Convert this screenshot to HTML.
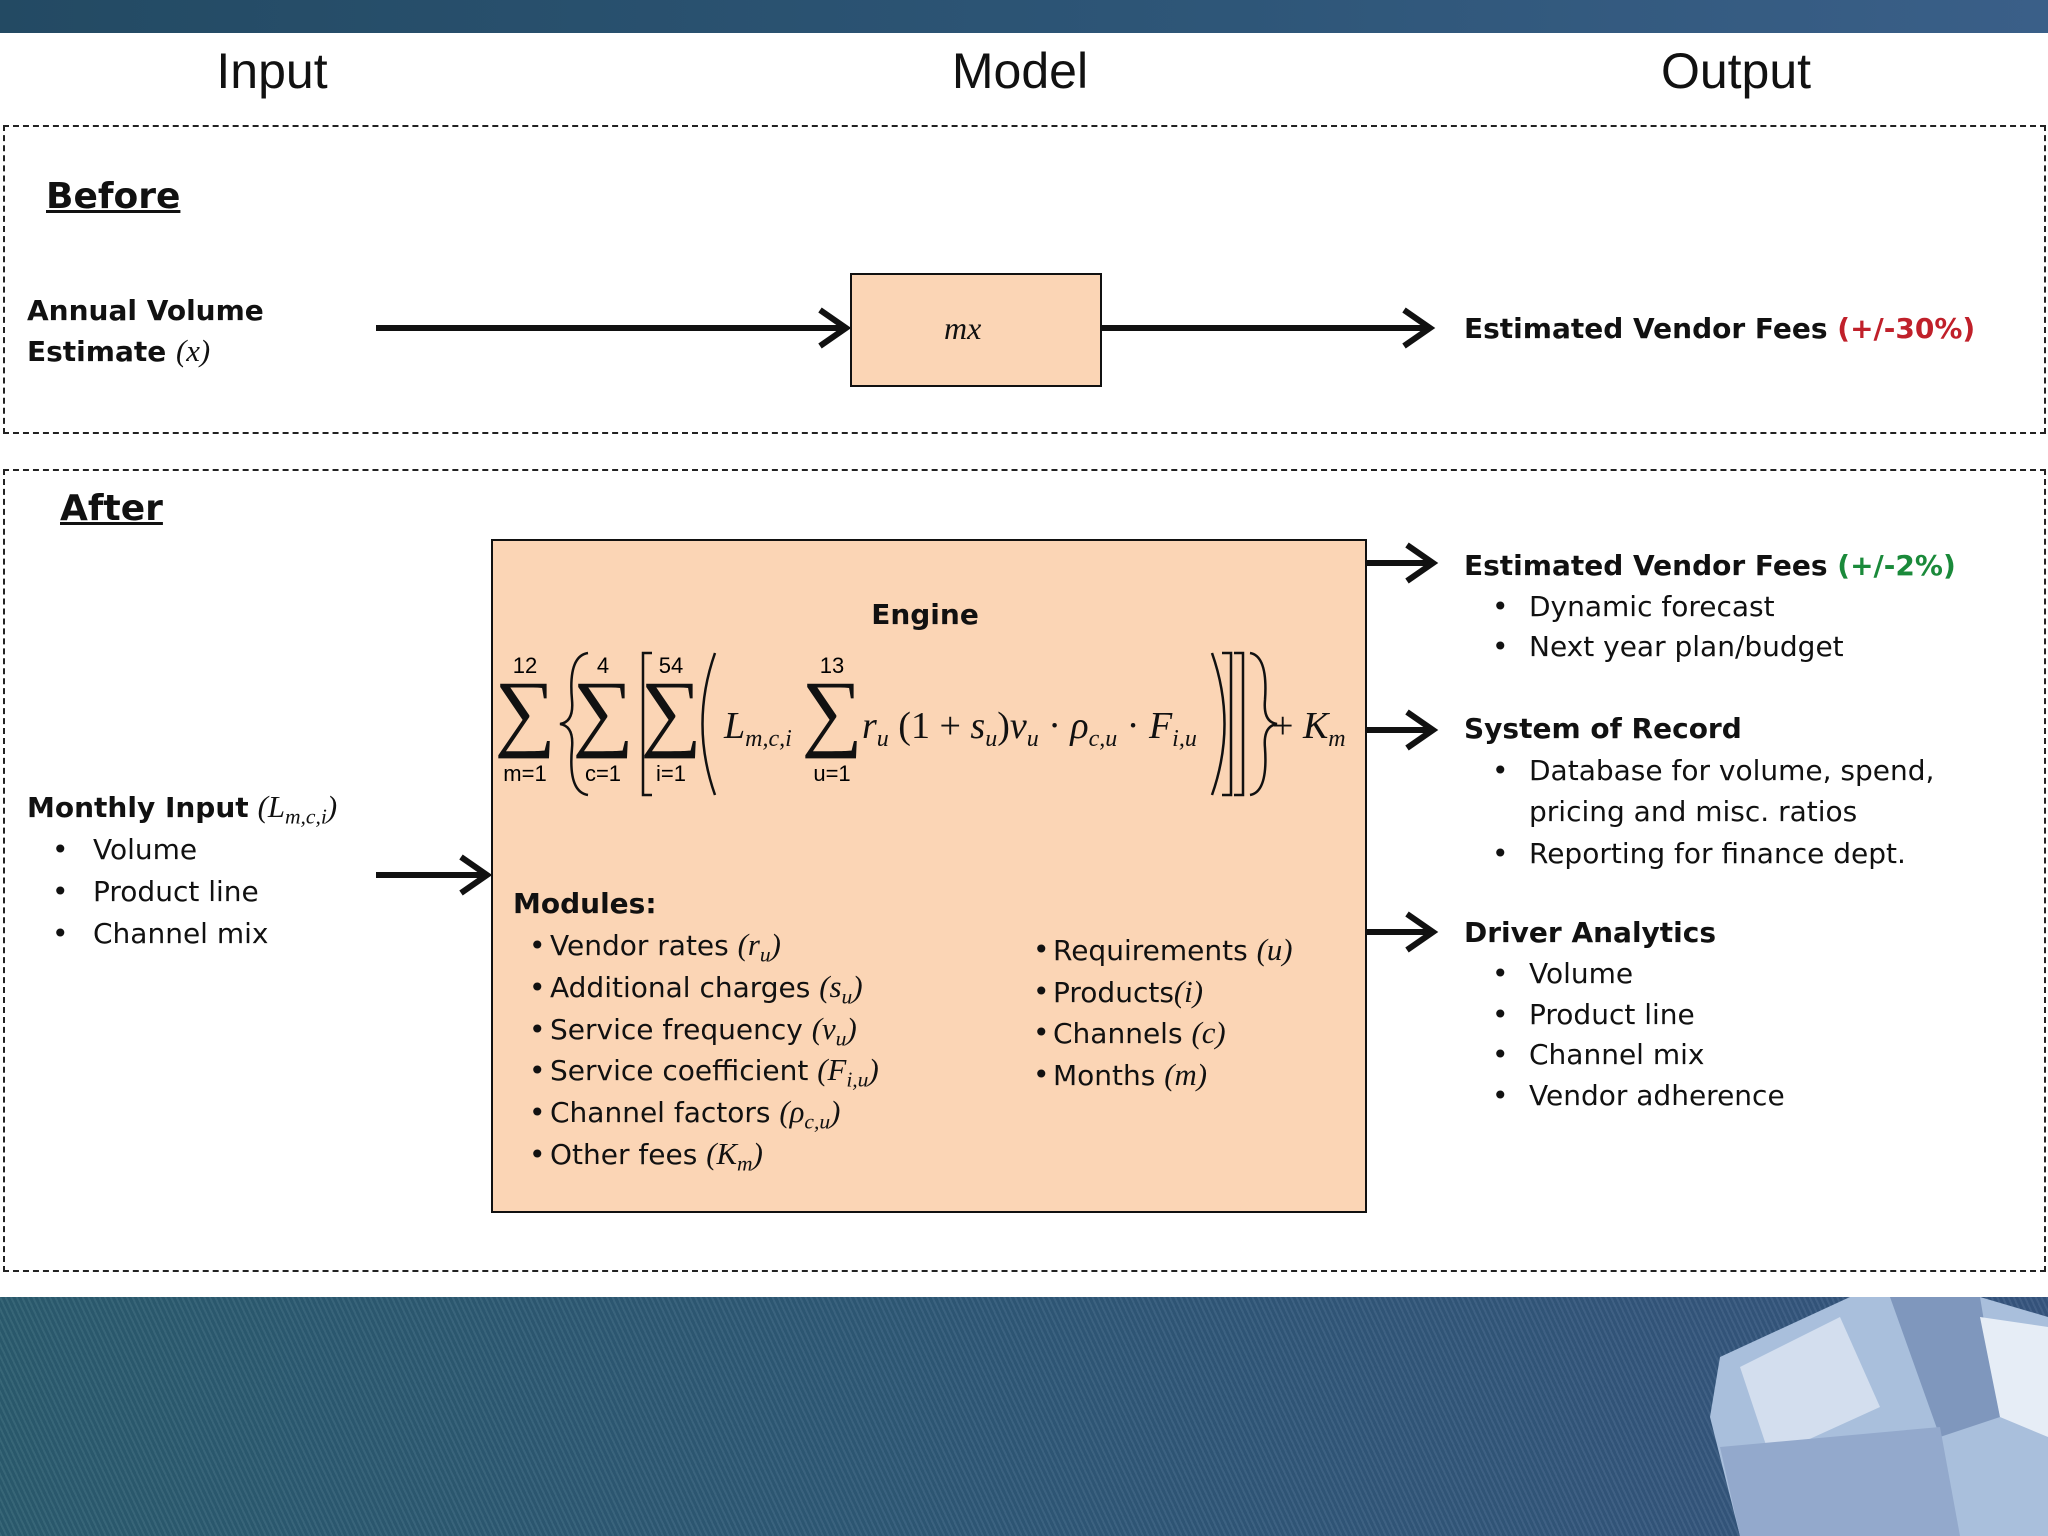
<!DOCTYPE html>
<html><head><meta charset="utf-8"><style>
body{margin:0;width:2048px;height:1536px;position:relative;overflow:hidden;background:#fff;font-family:"DejaVu Sans","Liberation Sans",sans-serif;color:#111}
.a{position:absolute;white-space:nowrap}
.h{font-size:50px;font-family:"Liberation Sans",sans-serif;transform:translateX(-50%)}
.b{font-weight:bold}
.t{font-size:28px;font-family:"DejaVu Sans",sans-serif}
.m{font-family:"Liberation Serif",serif;font-style:italic;font-size:1.1em}
sub{line-height:0;font-size:0.7em;vertical-align:-0.3em}
.dash{position:absolute;border:2px dashed #222}
.li{position:relative}
.li i{position:absolute;font-style:normal}
</style></head><body>
<div class="a" style="left:0;top:0;width:2048px;height:33px;background:linear-gradient(90deg,#234a63,#2e5678 60%,#3a5f88)"></div>
<div class="a" style="left:0;top:1297px;width:2048px;height:239px;background:repeating-linear-gradient(65deg,rgba(255,255,255,0.06) 0 2px,rgba(0,0,0,0.04) 2px 5px),linear-gradient(90deg,#2b5c6f,#2f5878 50%,#36557f)"></div>
<svg class="a" style="left:1680px;top:1297px" width="368" height="239"><polygon points="40,60 170,0 300,0 368,20 368,239 60,239 30,120" fill="#a9bfdc"/><polygon points="60,70 160,20 200,110 90,160" fill="#d3deee"/><polygon points="210,0 300,0 320,120 260,140" fill="#7f97bd"/><polygon points="300,20 368,30 368,140 320,120" fill="#e6edf6"/><polygon points="40,150 260,130 280,239 60,239" fill="#93a9cc"/></svg>

<div class="a h" style="left:272px;top:42px">Input</div>
<div class="a h" style="left:1020px;top:42px">Model</div>
<div class="a h" style="left:1736px;top:42px">Output</div>

<div class="dash" style="left:3px;top:125px;width:2039px;height:305px"></div>
<div class="dash" style="left:3px;top:469px;width:2039px;height:799px"></div>

<div class="a t b" style="left:46px;top:176px;font-size:36px;text-decoration:underline">Before</div>
<div class="a t b" style="left:60px;top:488px;font-size:36px;text-decoration:underline">After</div>

<div class="a t b" style="left:27px;top:290px;line-height:41px">Annual Volume<br>Estimate <span class="m" style="font-weight:normal">(x)</span></div>

<div class="a" style="left:850px;top:273px;width:248px;height:110px;background:#fbd5b5;border:2px solid #111"></div>
<div class="a m" style="left:944px;top:310px;font-size:32px">mx</div>

<svg class="a" style="left:0;top:0" width="2048" height="1536">
<g stroke="#111" stroke-width="6" fill="none" stroke-linejoin="miter">
<line x1="376" y1="328" x2="846" y2="328"/><path d="M820,310 L846,328 L820,346"/>
<line x1="1100" y1="328" x2="1430" y2="328"/><path d="M1404,310 L1430,328 L1404,346"/>
<line x1="376" y1="875" x2="487" y2="875"/><path d="M461,857 L487,875 L461,893"/>
<line x1="1366" y1="563" x2="1433" y2="563"/><path d="M1407,545 L1433,563 L1407,581"/>
<line x1="1366" y1="730" x2="1433" y2="730"/><path d="M1407,712 L1433,730 L1407,748"/>
<line x1="1366" y1="932" x2="1433" y2="932"/><path d="M1407,914 L1433,932 L1407,950"/>
</g>
</svg>

<div class="a t b" style="left:1464px;top:312px">Estimated Vendor Fees <span style="color:#c0202a">(+/-30%)</span></div>

<div class="a" style="left:491px;top:539px;width:872px;height:670px;background:#fbd5b5;border:2px solid #111"></div>
<div class="a t b" style="left:925px;top:598px;transform:translateX(-50%)">Engine</div>
<svg class="a" style="left:0;top:0" width="2048" height="1536" font-family="Liberation Serif,serif">
<g font-size="86" text-anchor="middle" fill="#111">
<text x="525" y="740">∑</text><text x="603" y="740">∑</text><text x="671" y="740">∑</text><text x="832" y="740">∑</text>
</g>
<g font-size="22" text-anchor="middle" font-family="Liberation Sans,sans-serif">
<text x="525" y="673">12</text><text x="603" y="673">4</text><text x="671" y="673">54</text><text x="832" y="673">13</text>
<text x="525" y="781">m=1</text><text x="603" y="781">c=1</text><text x="671" y="781">i=1</text><text x="832" y="781">u=1</text>
</g>
<g stroke="#111" stroke-width="2.5" fill="none">
<path d="M588,653 Q568,656 572,700 Q574,722 560,724 Q574,726 572,748 Q568,792 588,795"/>
<path d="M652,653 L643,653 L643,795 L652,795"/>
<path d="M715,653 Q690,724 715,795"/>
<path d="M1212,653 Q1237,724 1212,795"/>
<path d="M1222,653 L1231,653 L1231,795 L1222,795"/>
<path d="M1234,653 L1243,653 L1243,795 L1234,795"/>
<path d="M1250,653 Q1268,656 1265,700 Q1263,722 1277,724 Q1263,726 1265,748 Q1268,792 1250,795"/>
</g>
<g font-size="38" font-style="italic" fill="#111">
<text x="724" y="738">L<tspan font-size="24" dy="8">m,c,i</tspan></text>
<text x="862" y="738">r<tspan font-size="24" dy="8">u</tspan><tspan dy="-8" font-style="normal"> (1 + </tspan>s<tspan font-size="24" dy="8">u</tspan><tspan dy="-8" font-style="normal">)</tspan>v<tspan font-size="24" dy="8">u</tspan><tspan dy="-8" font-style="normal"> · </tspan>ρ<tspan font-size="24" dy="8">c,u</tspan><tspan dy="-8" font-style="normal"> · </tspan>F<tspan font-size="24" dy="8">i,u</tspan></text>
<text x="1272" y="738"><tspan font-style="normal">+ </tspan>K<tspan font-size="24" dy="8">m</tspan></text>
</g>
</svg>

<div class="a t b" style="left:513px;top:887px">Modules:</div>
<div class="a t" style="left:529px;top:925px;line-height:41.8px">
<div class="li"><i style="left:0">•</i><span style="padding-left:21px">Vendor rates <span class="m">(r<sub>u</sub>)</span></span></div>
<div class="li"><i style="left:0">•</i><span style="padding-left:21px">Additional charges <span class="m">(s<sub>u</sub>)</span></span></div>
<div class="li"><i style="left:0">•</i><span style="padding-left:21px">Service frequency <span class="m">(v<sub>u</sub>)</span></span></div>
<div class="li"><i style="left:0">•</i><span style="padding-left:21px">Service coefficient <span class="m">(F<sub>i,u</sub>)</span></span></div>
<div class="li"><i style="left:0">•</i><span style="padding-left:21px">Channel factors <span class="m">(ρ<sub>c,u</sub>)</span></span></div>
<div class="li"><i style="left:0">•</i><span style="padding-left:21px">Other fees <span class="m">(K<sub>m</sub>)</span></span></div>
</div>
<div class="a t" style="left:1033px;top:930px;line-height:40.7px">
<div class="li"><i style="left:0">•</i><span style="padding-left:20px">Requirements <span class="m">(u)</span></span></div>
<div class="li"><i style="left:0">•</i><span style="padding-left:20px">Products<span class="m">(i)</span></span></div>
<div class="li"><i style="left:0">•</i><span style="padding-left:20px">Channels <span class="m">(c)</span></span></div>
<div class="li"><i style="left:0">•</i><span style="padding-left:20px">Months <span class="m">(m)</span></span></div>
</div>

<div class="a t" style="left:27px;top:786px;line-height:42px">
<div><b>Monthly Input</b> <span class="m">(L<sub>m,c,i</sub>)</span></div>
<div class="li"><i style="left:25px">•</i><span style="padding-left:66px">Volume</span></div>
<div class="li"><i style="left:25px">•</i><span style="padding-left:66px">Product line</span></div>
<div class="li"><i style="left:25px">•</i><span style="padding-left:66px">Channel mix</span></div>
</div>

<div class="a t" style="left:1464px;top:546px;line-height:40.5px">
<div class="b">Estimated Vendor Fees <span style="color:#1a8a3a">(+/-2%)</span></div>
<div class="li"><i style="left:28px">•</i><span style="padding-left:65px">Dynamic forecast</span></div>
<div class="li"><i style="left:28px">•</i><span style="padding-left:65px">Next year plan/budget</span></div>
</div>
<div class="a t" style="left:1464px;top:708px;line-height:41.5px">
<div class="b">System of Record</div>
<div class="li"><i style="left:28px">•</i><span style="padding-left:65px">Database for volume, spend,</span></div>
<div class="li"><span style="padding-left:65px">pricing and misc. ratios</span></div>
<div class="li"><i style="left:28px">•</i><span style="padding-left:65px">Reporting for finance dept.</span></div>
</div>
<div class="a t" style="left:1464px;top:913px;line-height:40.8px">
<div class="b">Driver Analytics</div>
<div class="li"><i style="left:28px">•</i><span style="padding-left:65px">Volume</span></div>
<div class="li"><i style="left:28px">•</i><span style="padding-left:65px">Product line</span></div>
<div class="li"><i style="left:28px">•</i><span style="padding-left:65px">Channel mix</span></div>
<div class="li"><i style="left:28px">•</i><span style="padding-left:65px">Vendor adherence</span></div>
</div>
</body></html>
